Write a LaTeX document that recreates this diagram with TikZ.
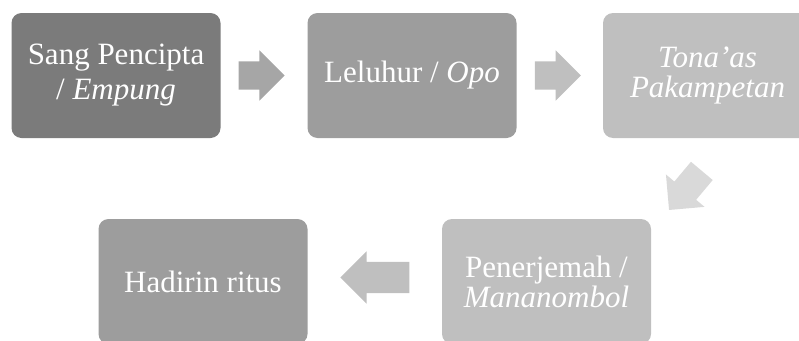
\documentclass[tikz,border=0pt]{standalone}
\usepackage{fontspec}
\setmainfont{Liberation Serif}
\usetikzlibrary{shapes.arrows, calc}

\definecolor{boxdark}{HTML}{7B7B7B}
\definecolor{boxmid}{HTML}{9D9D9D}
\definecolor{boxlight}{HTML}{BFBFBF}
\definecolor{arrowdark}{HTML}{A6A6A6}
\definecolor{arrowmid}{HTML}{BFBFBF}
\definecolor{arrowlight}{HTML}{D9D9D9}

\tikzset{
    stepbox/.style={rectangle, rounded corners=10pt, minimum width=209pt, minimum height=125pt,
        text=white, align=center, font=\fontsize{31}{30}\selectfont},
    flowarrow/.style={single arrow, draw=none, minimum height=46pt, minimum width=50pt,
        single arrow head extend=11pt, inner xsep=0pt, inner ysep=14pt},
}

\begin{document}
\begin{tikzpicture}[x=1pt,y=-1pt]
        \useasboundingbox (0,0) rectangle (799,340);

        \node[stepbox, fill=boxdark] (sang) at (116,75.5) {Sang Pencipta\\[5pt] / \textit{Empung}};
        \node[stepbox, fill=boxmid] (leluhur) at (412,75.5) {Leluhur / \textit{Opo}};
        \node[stepbox, fill=boxlight] (tonaas) at (707.5,75.5) {\textit{Tona’as}\\\textit{Pakampetan}};
        \node[stepbox, fill=boxlight] (penerjemah) at (546.5,281.5) {Penerjemah /\\\textit{Mananombol}};
        \node[stepbox, fill=boxmid] (hadirin) at (203,281.5) {Hadirin ritus};

        \node[flowarrow, fill=arrowdark] (arrow1) at ($(sang.east)!0.5!(leluhur.west)+(-9.5,0)$) {};
        \node[flowarrow, fill=arrowmid] (arrow2) at ($(leluhur.east)!0.5!(tonaas.west)+(-9,0)$) {};
        \node[flowarrow, fill=arrowlight, rotate=230, minimum height=51pt] (arrow3) at (690,185) {};
        \node[flowarrow, fill=arrowmid, rotate=180, minimum height=69pt, minimum width=52pt,
            inner ysep=15.5pt, single arrow head extend=10.5pt] (arrow4)
            at ($(penerjemah.west)!0.5!(hadirin.east)+(8,-4)$) {};

    \end{tikzpicture}
\end{document}
